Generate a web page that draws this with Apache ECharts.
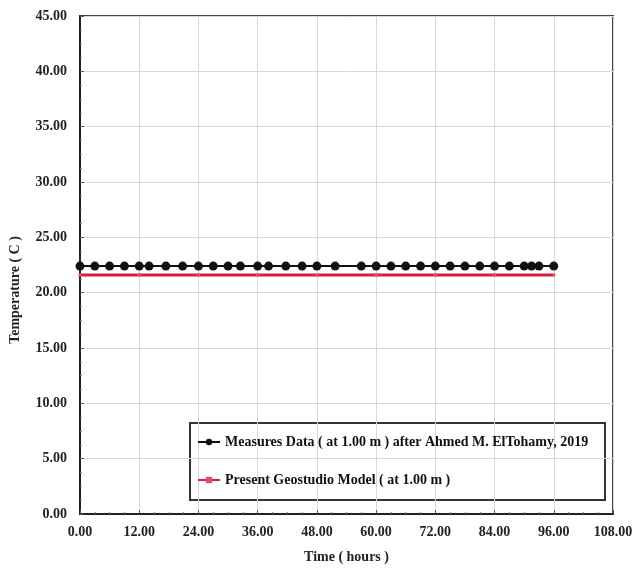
<!DOCTYPE html>
<html><head><meta charset="utf-8">
<script src="https://cdn.jsdelivr.net/npm/echarts@6/dist/echarts.min.js"></script>
<style>html,body{margin:0;padding:0;background:#fff}#c{width:637px;height:577px}</style>
</head><body><div id="c"></div>
<script>
var measuredTimes = [0, 3, 6, 9, 12, 14, 17.4, 20.8, 24, 27, 30, 32.5, 36, 38.2, 41.7, 45, 48, 51.7, 57, 60, 63, 66, 69, 72, 75, 78, 81, 84, 87, 90, 91.5, 93, 96];
var measuredValues = [22.4, 22.4, 22.4, 22.4, 22.4, 22.4, 22.4, 22.4, 22.4, 22.4, 22.4, 22.4, 22.4, 22.4, 22.4, 22.4, 22.4, 22.4, 22.4, 22.4, 22.4, 22.4, 22.4, 22.4, 22.4, 22.4, 22.4, 22.4, 22.4, 22.4, 22.4, 22.4, 22.4];
var modelTimes = [0, 12, 24, 36, 48, 60, 72, 84, 96];
var modelValues = [21.6, 21.6, 21.6, 21.6, 21.6, 21.6, 21.6, 21.6, 21.6];
var seriesNames = ['Measures Data ( at 1.00 m ) after Ahmed M. ElTohamy, 2019', 'Present Geostudio Model ( at 1.00 m )'];

function pairs(xs, ys) { return xs.map(function (x, i) { return [x, ys[i]]; }); }
var font = 'Liberation Serif';
var chart = echarts.init(document.getElementById('c'));
chart.setOption({
  animation: false,
  grid: { left: 80, right: 24, top: 16, bottom: 63, show: true, borderColor: '#444', borderWidth: 2,
    containLabel: false, outerBoundsMode: 'none' },
  xAxis: {
    type: 'value', min: 0, max: 108, interval: 12,
    name: 'Time ( hours )', nameLocation: 'middle', nameGap: 36,
    nameTextStyle: { fontFamily: font, fontWeight: 'bold', fontSize: 14, color: '#222' },
    axisLine: { lineStyle: { color: '#222', width: 2 } },
    axisTick: { show: true, inside: true, length: 4, lineStyle: { color: '#555' } },
    minorTick: { show: true, splitNumber: 4, length: 2, lineStyle: { color: '#777' } },
    splitLine: { show: true, lineStyle: { color: '#d8d8d8', width: 1 } },
    axisLabel: { fontFamily: font, fontWeight: 'bold', fontSize: 14, color: '#222', margin: 11,
      formatter: function (v) { return v.toFixed(2); } }
  },
  yAxis: {
    type: 'value', min: 0, max: 45, interval: 5,
    axisLine: { show: true, lineStyle: { color: '#222', width: 2 } },
    axisTick: { show: true, inside: true, length: 4, lineStyle: { color: '#555' } },
    minorTick: { show: true, splitNumber: 4, length: 2, lineStyle: { color: '#777' } },
    splitLine: { show: true, lineStyle: { color: '#d8d8d8', width: 1 } },
    axisLabel: { fontFamily: font, fontWeight: 'bold', fontSize: 14, color: '#222', margin: 13,
      formatter: function (v) { return v.toFixed(2); } }
  },
  legend: {
    show: true, orient: 'vertical', left: 192, top: 430, itemGap: 24,
    itemWidth: 22, itemHeight: 8, itemGap: 24,
    textStyle: { fontFamily: font, fontWeight: 'bold', fontSize: 14, color: '#111' },
    data: [
      { name: seriesNames[0] },
      { name: seriesNames[1] }
    ]
  },
  graphic: [{
    type: 'rect', left: 189, top: 422, shape: { width: 415, height: 77 },
    style: { fill: 'rgba(255,255,255,0)', stroke: '#333', lineWidth: 2 }, z: 0
  }, {
    type: 'text', x: 15, y: 290, rotation: Math.PI / 2,
    style: { text: 'Temperature ( C )', font: 'bold 14px "Liberation Serif"', fill: '#222',
      align: 'center', verticalAlign: 'middle' }
  }],
  series: [
    {
      name: seriesNames[1], type: 'line', data: pairs(modelTimes, modelValues),
      symbol: 'rect', symbolSize: [3, 3], showAllSymbol: true,
      lineStyle: { color: '#d8203a', width: 3 }, itemStyle: { color: '#e0506a' }, z: 2
    },
    {
      name: seriesNames[0], type: 'line', data: pairs(measuredTimes, measuredValues),
      symbol: 'circle', symbolSize: 9, showAllSymbol: true,
      lineStyle: { color: '#111', width: 2 }, itemStyle: { color: '#111' }, z: 3
    }
  ]
});
</script></body></html>
